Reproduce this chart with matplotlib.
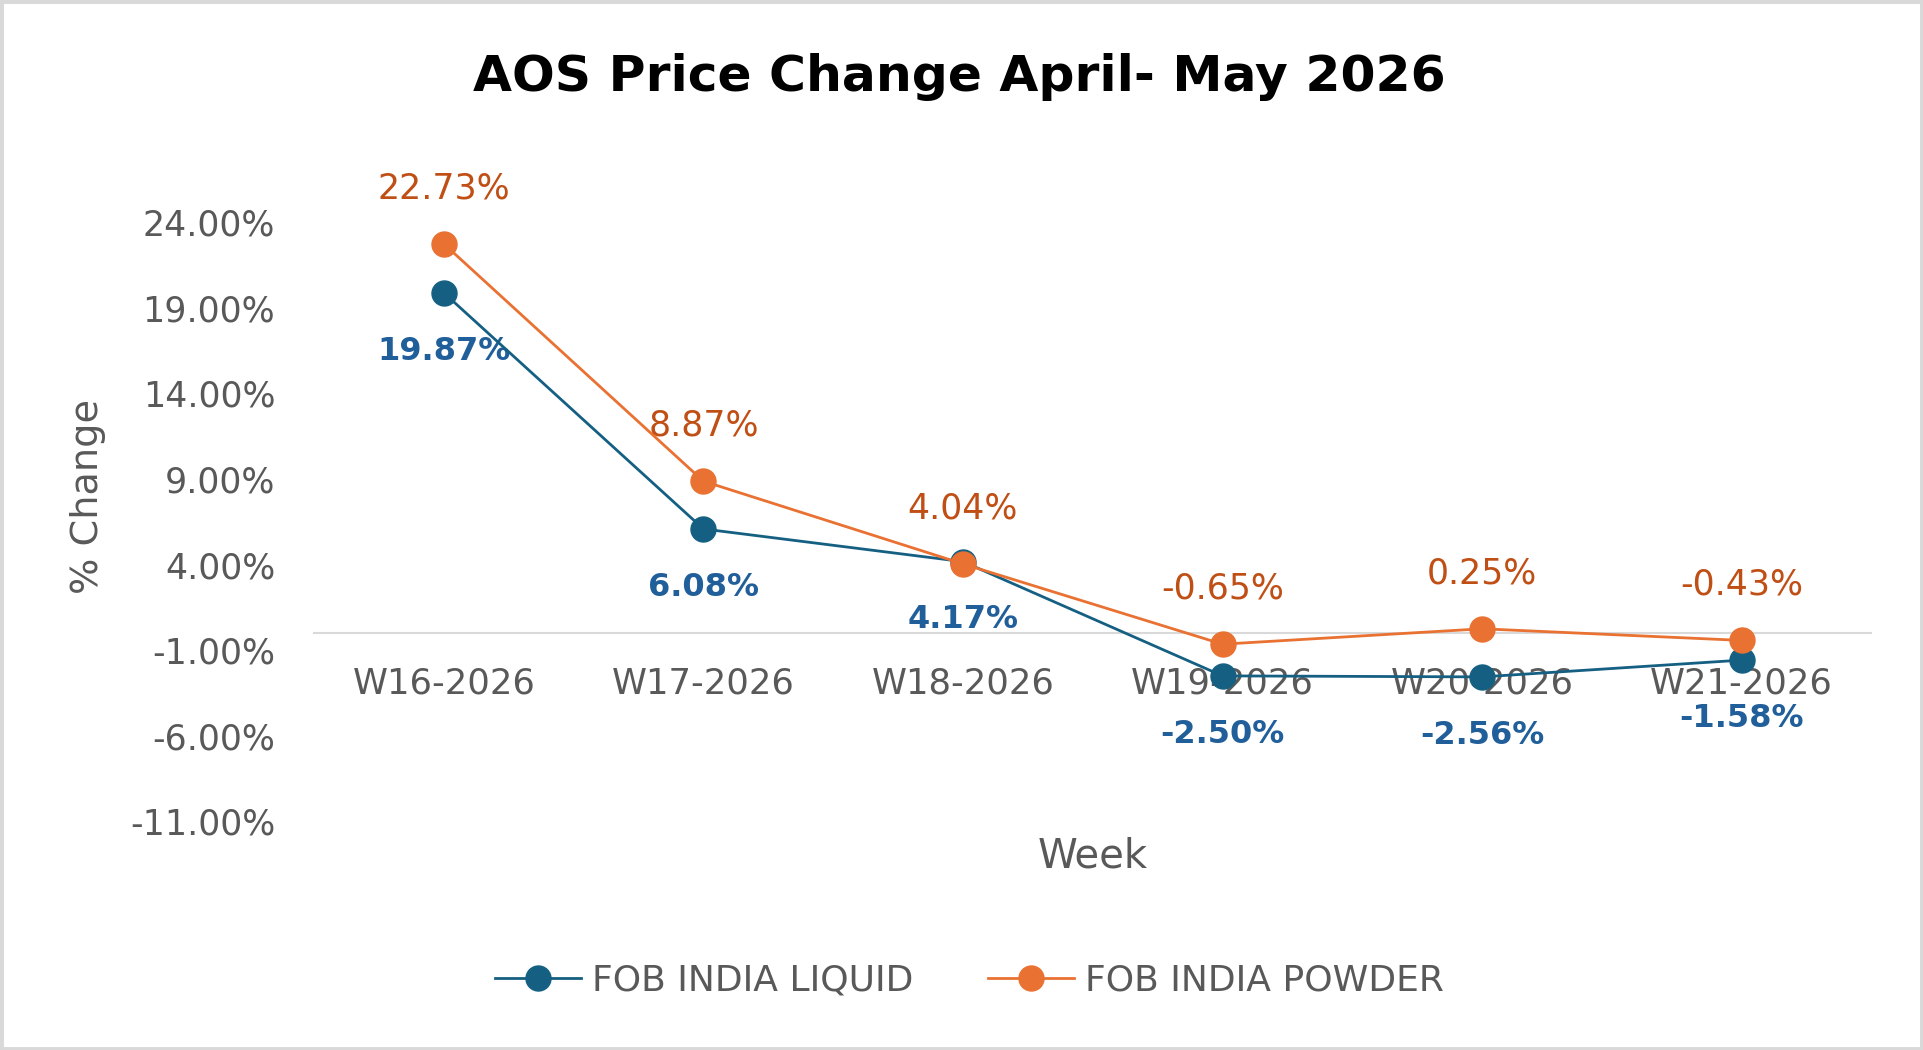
import matplotlib
matplotlib.use("Agg")
import matplotlib.pyplot as plt
from matplotlib.patches import Rectangle
from matplotlib.ticker import FuncFormatter

weeks = ["W16-2026", "W17-2026", "W18-2026", "W19-2026", "W20-2026", "W21-2026"]
liquid = [19.87, 6.08, 4.17, -2.50, -2.56, -1.58]
powder = [22.73, 8.87, 4.04, -0.65, 0.25, -0.43]
yticks = [-11, -6, -1, 4, 9, 14, 19, 24]

plt.rcParams['font.family'] = ['DejaVu Sans']

BLUE = "#156082"
ORANGE = "#E97132"
BLUE_LBL = "#215F9A"
ORANGE_LBL = "#C04F15"
GRAY = "#595959"

fig = plt.figure(figsize=(19.23, 10.5), dpi=100)
ax = fig.add_axes([0.1633, 0.2177, 0.8099, 0.6034])

x = list(range(len(weeks)))
ax.plot(x, liquid, color=BLUE, lw=2.0, marker='o', ms=18, label="FOB INDIA LIQUID", zorder=3)
ax.plot(x, powder, color=ORANGE, lw=2.0, marker='o', ms=18, label="FOB INDIA POWDER", zorder=3)

for xi, v in zip(x, powder):
    ax.annotate(f"{v:.2f}%", (xi, v), xytext=(0, 40), textcoords='offset points',
                ha='center', va='center', fontsize=25, color=ORANGE_LBL, zorder=1)
for xi, v in zip(x, liquid):
    ax.annotate(f"{v:.2f}%", (xi, v), xytext=(0, -42), textcoords='offset points',
                ha='center', va='center', fontsize=23, fontweight='bold', color=BLUE_LBL, zorder=1)

ax.set_xlim(-0.5, 5.5)
ax.set_ylim(-11, 26)
ax.set_yticks(yticks)
ax.yaxis.set_major_formatter(FuncFormatter(lambda v, p: f"{v:.2f}%"))
ax.set_xticks(x)
ax.set_xticklabels(weeks)

for s in ['top', 'right', 'left']:
    ax.spines[s].set_visible(False)
ax.spines['bottom'].set_position(('data', 0))
ax.spines['bottom'].set_color('#D9D9D9')
ax.spines['bottom'].set_linewidth(1.5)
ax.spines['bottom'].set_zorder(0.5)

ax.tick_params(axis='both', length=0, labelcolor=GRAY)
ax.tick_params(axis='y', labelsize=25, pad=28)
ax.tick_params(axis='x', labelsize=25.5, pad=24)

fig.text(0.0458, 0.527, "% Change", rotation=90, ha='center', va='center', fontsize=27.5, color=GRAY)
fig.text(0.568, 0.184, "Week", ha='center', va='center', fontsize=29, color=GRAY)
fig.text(0.499, 0.927, "AOS Price Change April- May 2026", ha='center', va='center',
         fontsize=36.3, fontweight='bold', color='black')

leg = fig.legend(loc='center', bbox_to_anchor=(0.504, 0.066), ncol=2, frameon=False,
                 fontsize=26, handlelength=2.38, handletextpad=0.3, columnspacing=2.07,
                 labelcolor=GRAY, markerscale=1.0)

fig.patches.append(Rectangle((0, 0), 1, 1, transform=fig.transFigure, fill=False,
                             edgecolor='#D9D9D9', linewidth=5, zorder=10))

fig.savefig("out.png", dpi=100, facecolor='white')
